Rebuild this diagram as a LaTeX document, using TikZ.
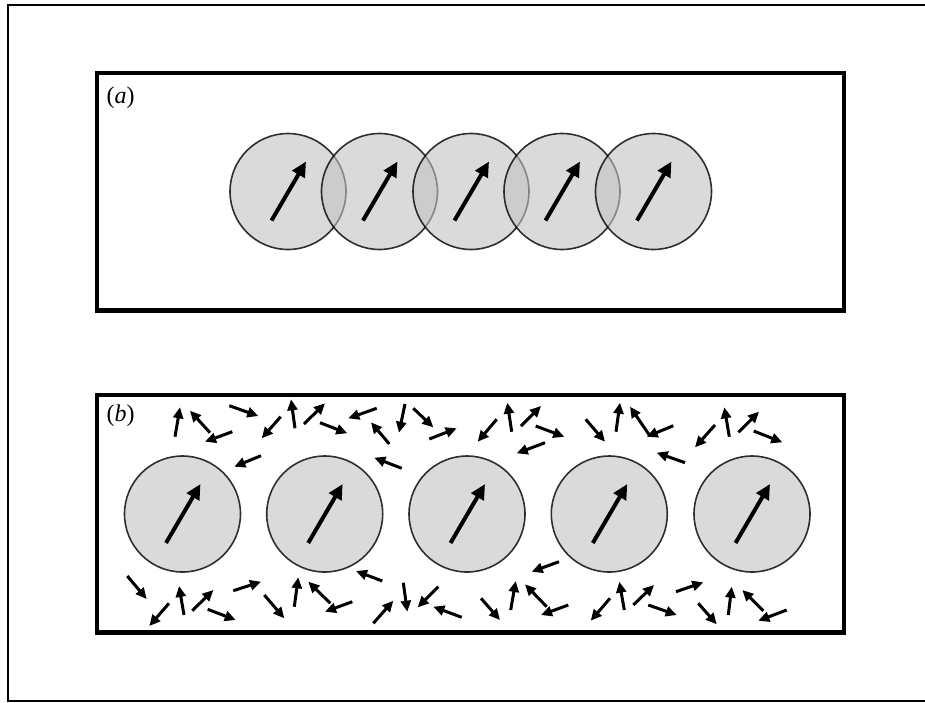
\documentclass[tikz,border=0pt]{standalone}
\usepackage{fontspec}
\setmainfont{Liberation Serif}
\usetikzlibrary{arrows.meta}
\begin{document}
\begin{tikzpicture}[x=1pt,y=-1pt,
  panel/.style={draw=black,line width=4.5pt,line join=miter},
  disc/.style={circle,minimum size=116pt,inner sep=0pt,
    fill=black!24,fill opacity=0.6,draw=black,draw opacity=0.8,line width=1.6pt},
  spin/.style={line width=4pt,-{Triangle[length=15pt,width=14pt]}},
  flip/.style={line width=3pt,-{Triangle[length=11pt,width=10pt]}},
  tag/.style={font=\fontsize{24}{28}\selectfont,inner sep=0pt,anchor=base west}]
\useasboundingbox (0,0) rectangle (925,702);

% thin outer frame, open on the right
\begin{scope}
  \clip (0,0) rectangle (925,702);
  \draw[line width=2pt] (940,5) -- (8,5) -- (8,700.5) -- (940,700.5);
\end{scope}

% panel frames
\draw[panel] (97,73) rectangle (844,310.5);
\draw[panel] (97,395) rectangle (844,632.5);

\node[tag] (la) at (106.5,103) {(\textit{a})};
\node[tag] (lb) at (106.5,421.8) {(\textit{b})};

% (a) overlapping particles, all aligned
\foreach \i/\x in {1/288,2/379.5,3/471,4/562,5/653.5}
  \node[disc] (a\i) at (\x,191.5) {};
\foreach \i in {1,...,5}
  \draw[spin] ([shift={(-16.5,29)}]a\i.center) -- ([shift={(18,-30)}]a\i.center);

% (b) separated particles
\foreach \i/\x in {1/182.5,2/324.7,3/467,4/609.3,5/752}
  \node[disc] (b\i) at (\x,514) {};
\foreach \i in {1,...,5}
  \draw[spin] ([shift={(-16.5,29)}]b\i.center) -- ([shift={(18,-30)}]b\i.center);

% randomly oriented small moments around the particles
\foreach \ax/\ay/\bx/\by in {
  175/436.7/180/407.3, 210/432.7/190/410.7, 232.3/431.7/205/441.7,
  229.3/405.7/258.3/416, 280.7/416.7/261.7/438.3, 295/428.3/291/399.3,
  304/424/325/403.3, 320/422.7/347.3/433.3, 376.7/408.3/348.3/418.3,
  389.3/444/371/422.3, 405/404/399/432.7, 413.3/408.3/433.3/427.3,
  429.3/439/456.7/428.3, 261/455.7/234.3/466.7, 401.7/468.3/374.3/457.7,
  496.7/419.3/477.7/441.7, 511.7/431.7/507.3/402.7, 521/426/541/406,
  535.7/426/564.3/436.7, 545/442.7/516.7/453.3, 585.7/419.3/605/441.7,
  616/431.7/620/402.7, 650/436/630/406.7, 673.3/425.7/646.7/436.7,
  685/462.7/656.7/452.7, 715/425/695/447.3, 729.3/436.7/724.3/407.3,
  738.3/432.3/759/411.7, 753.7/431/782.3/442.3,
  127.3/576/146.7/599, 169/603.3/149.3/626, 184/615/179/586,
  192.3/610.7/213.3/590, 207.7/609.3/235.7/620, 233.3/590.7/261/581.7,
  264.3/595/284.3/618.3, 294.3/606.7/298.3/577.3, 330.3/603.3/308.3/581.7,
  352.3/601.7/325/611.7, 382.3/581/356/571, 373.3/623.3/393.3/600.7,
  403.3/582.7/407.3/611.7, 438.3/586.7/417.7/607.3, 461.7/617.3/433.3/606.7,
  559/561.7/531.7/571.7, 481/598.3/500/620, 510.7/610/515.7/581,
  546.7/606.7/525/584.3, 568.3/605/541/615, 610/598.3/590.7/620.7,
  624.3/610/619.3/581.7, 633.3/605/654/585, 648.3/605/676.7/615,
  676/591.7/703.3/582.3, 698.3/603.3/716.7/624.3, 728.3/615/731.7/586.7,
  763.3/610.7/742.3/590, 786.7/610/758.3/620.7}
  \draw[flip] (\ax,\ay) -- (\bx,\by);
\end{tikzpicture}
\end{document}
